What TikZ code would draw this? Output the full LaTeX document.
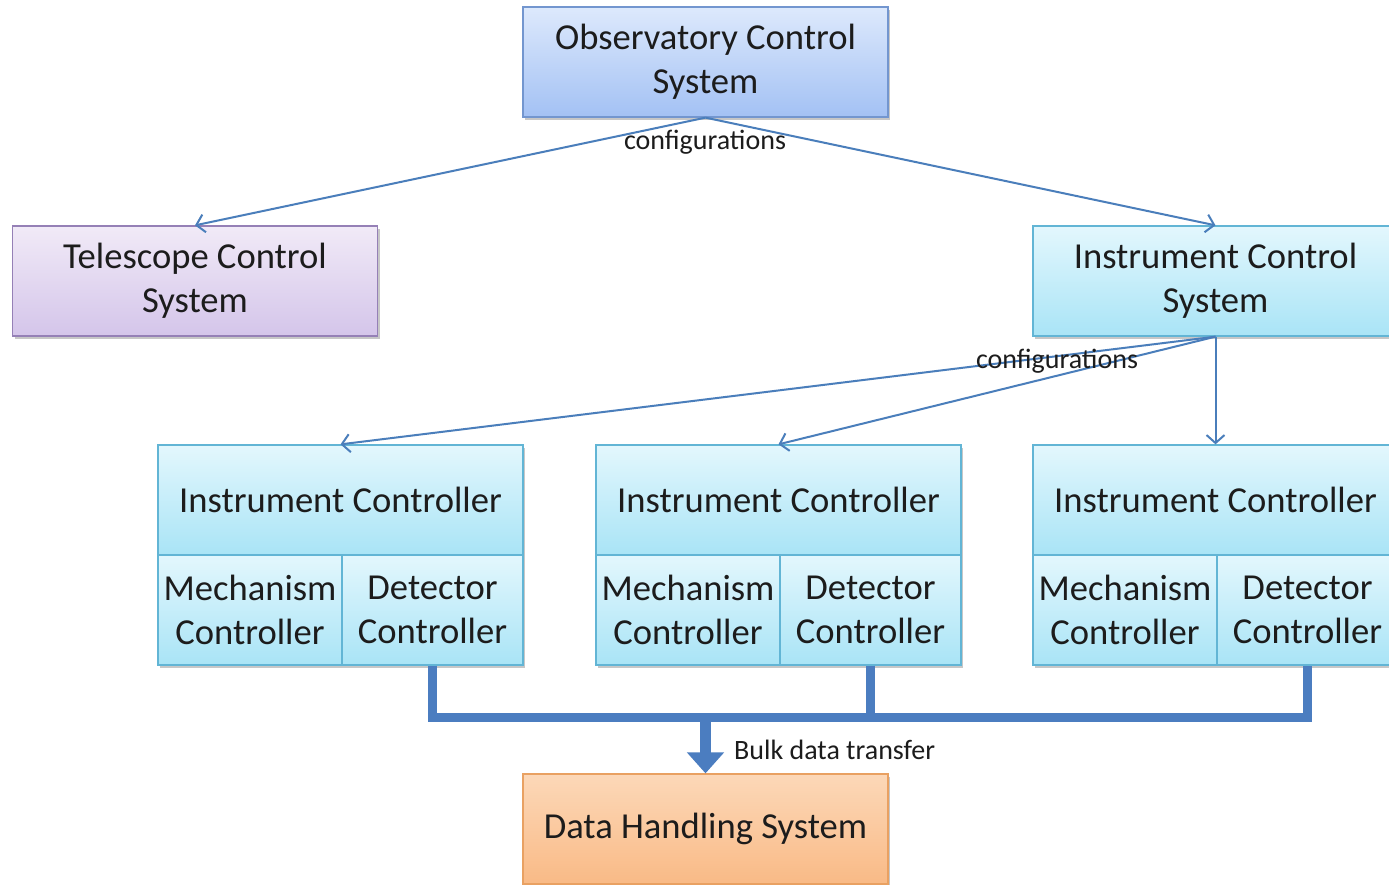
\documentclass[tikz,border=0pt]{standalone}
\usepackage{fontspec}
\setmainfont{Carlito}
\usetikzlibrary{arrows.meta,shadows,calc}
\definecolor{txt}{HTML}{1C1C1C}
\definecolor{lineblue}{HTML}{4A7EBB}
\definecolor{busblue}{HTML}{4B7DC0}
\definecolor{ocsT}{HTML}{DDE9FC}
\definecolor{ocsBt}{HTML}{A3C1F4}
\definecolor{ocsD}{HTML}{7396CF}
\definecolor{tcsT}{HTML}{F1EAF7}
\definecolor{tcsBt}{HTML}{D4C5EA}
\definecolor{tcsD}{HTML}{9580B6}
\definecolor{icsT}{HTML}{E3F7FD}
\definecolor{icsBt}{HTML}{A9E4F6}
\definecolor{icsD}{HTML}{62B5D5}
\definecolor{dhsT}{HTML}{FCD8B8}
\definecolor{dhsBt}{HTML}{F9BA86}
\definecolor{dhsD}{HTML}{E9A162}
\tikzset{
  basebox/.style={rectangle, minimum width=365pt, minimum height=110pt,
    inner sep=0pt, align=center, font=\fontsize{36.6}{44}\selectfont, text=txt,
    line width=1.3pt,
    drop shadow={shadow xshift=2pt, shadow yshift=-3pt, opacity=0.22, fill=black}},
  ocsbox/.style={basebox, draw=ocsD, top color=ocsT, bottom color=ocsBt},
  tcsbox/.style={basebox, draw=tcsD, top color=tcsT, bottom color=tcsBt},
  icsbox/.style={basebox, draw=icsD, top color=icsT, bottom color=icsBt},
  dhsbox/.style={basebox, draw=dhsD, top color=dhsT, bottom color=dhsBt},
  mechbox/.style={icsbox, minimum width=184pt},
  detbox/.style={icsbox, minimum width=181pt},
  conn/.style={draw=lineblue, line width=2pt, -{Straight Barb[length=8pt,width=18pt]}},
  lbl/.style={font=\fontsize{28}{32}\selectfont, text=txt, inner sep=0pt},
  busline/.style={draw=busblue, line width=9pt, line join=miter},
  bigarrow/.style={draw=busblue, line width=11pt, -{Triangle[length=21pt,width=36pt]}}
}
\begin{document}
\begin{tikzpicture}[x=1pt,y=-1pt]
\useasboundingbox (0,0) rectangle (1389,884);
\clip (0,0) rectangle (1389,884);
\fill[white] (0,0) rectangle (1389,884);

\node[ocsbox] (ocs) at (705.5,62) {Observatory Control\\System};
\node[tcsbox] (tcs) at (195,281) {Telescope Control\\System};
\node[icsbox] (ics) at (1215.5,281) {Instrument Control\\System};

\foreach \i/\L in {1/158,2/596,3/1033}{
  \node[icsbox] (ic\i) at ({\L+182.5},500) {Instrument Controller};
  \node[mechbox] (mech\i) at ({\L+92},610) {Mechanism\\Controller};
  \node[detbox] (det\i) at ({\L+184+90.5},610) {Detector\\Controller};
}

\node[dhsbox] (dhs) at (705.5,829) {Data Handling System};

% configurations arrows
\draw[conn] (ocs.south) -- (tcs.north);
\draw[conn] (ocs.south) -- (ics.north);
\node[lbl] (cfg1) at (705,142) {configurations};

\draw[conn] (ics.south) -- (ic1.north);
\draw[conn] (ics.south) -- (ic2.north);
\draw[conn] (ics.south) -- (ic3.north);
\node[lbl] (cfg2) at (1057,361) {configurations};

% bulk data bus
\coordinate (busL) at ($(det1.south)+(0,52)$);
\draw[busline] (det1.south) -- (busL) -| (det3.south);
\draw[busline] (det2.south) -- (det2.south |- busL);
\coordinate (busM) at (705.5,713);
\draw[bigarrow] (busM) -- (dhs.north);
\node[lbl, anchor=west] (bulk) at (734,750) {Bulk data transfer};
\end{tikzpicture}
\end{document}
